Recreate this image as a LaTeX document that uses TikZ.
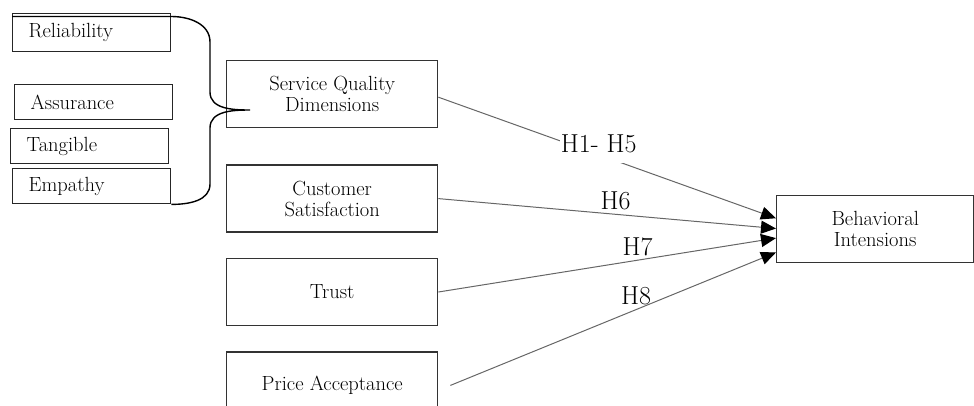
\documentclass[tikz,border=0pt]{standalone}
\usepackage{tikz}
\usetikzlibrary{positioning, calc, arrows.meta}
\usepackage{xcolor}
\tikzstyle{Box} = [
draw=black!80, line width=1.4pt,
minimum width=211pt, minimum height=67pt,
align=center, font=\fontsize{20.5}{21}\selectfont]
\tikzstyle{Dim} = [
draw=black!85, line width=1.4pt, anchor=north west,
text width=126pt, inner xsep=16pt, minimum height=35pt,
align=left, font=\fontsize{20.5}{21}\selectfont]
\tikzstyle{Arrow} = [
draw=black!60, line width=1pt,
-{Triangle[length=15pt, width=13pt, color=black]}]
\tikzstyle{Hyp} = [font=\fontsize{26}{28}\selectfont, inner sep=4pt]

\begin{document}
\begin{tikzpicture}[x=1pt, y=-1pt]
    \clip (0,0) rectangle (974,405);

    % dimensions
    \node [Dim, minimum height=38pt] (1) at (12,13) {Reliability};
    \node [Dim] (2) at (14,84) {Assurance};
    \node [Dim] (3) at (10,128) {Tangible};
    \node [Dim] (4) at (12,168) {Empathy};

    % constructs
    \node [Box, anchor=north west] (5) at (226,60) {Service Quality\\Dimensions};
    \node [Box, below =36pt of 5] (6) {Customer\\Satisfaction};
    \node [Box, below =25pt of 6] (7) {Trust};
    \node [Box, below =25pt of 7] (8) {Price Acceptance};
    \node [Box, anchor=north west, minimum width=197pt] (9) at (776,195) {Behavioral\\Intensions};

    % brace
    \coordinate (tip) at (250,110);
    \draw[line width=1.4pt] ([yshift=-3.5pt]1.north west) -- ([yshift=-3.5pt]1.north east)
        to [out=0, in=90] (210,42) -- (210,92)
        to [out=-90, in=180] (tip)
        to [out=180, in=90] (210,128) -- (210,184)
        to [out=-90, in=0] (4.south east);

    \coordinate (9a) at ($(9.north west)!0.34!(9.south west)$);
    \coordinate (9b) at ($(9.north west)!0.49!(9.south west)$);
    \coordinate (9c) at ($(9.north west)!0.63!(9.south west)$);
    \coordinate (9d) at ($(9.north west)!0.84!(9.south west)$);
    \coordinate (8a) at ([xshift=12pt]8.east);

    \draw[Arrow] ([yshift=-3pt]5.east) -- node[Hyp, fill=white, pos=0.475, yshift=11pt,
        minimum height=38pt, inner xsep=1pt] (h1) {H1- H5} (9a);
    \draw[Arrow] (6.east) -- node[Hyp, above, pos=0.525] (h2) {H6} (9b);
    \draw[Arrow] (7.east) -- node[Hyp, above, pos=0.59] (h3) {H7} (9c);
    \draw[Arrow] (8a) -- node[Hyp, above, pos=0.57] (h4) {H8} (9d);
\end{tikzpicture}
\end{document}
